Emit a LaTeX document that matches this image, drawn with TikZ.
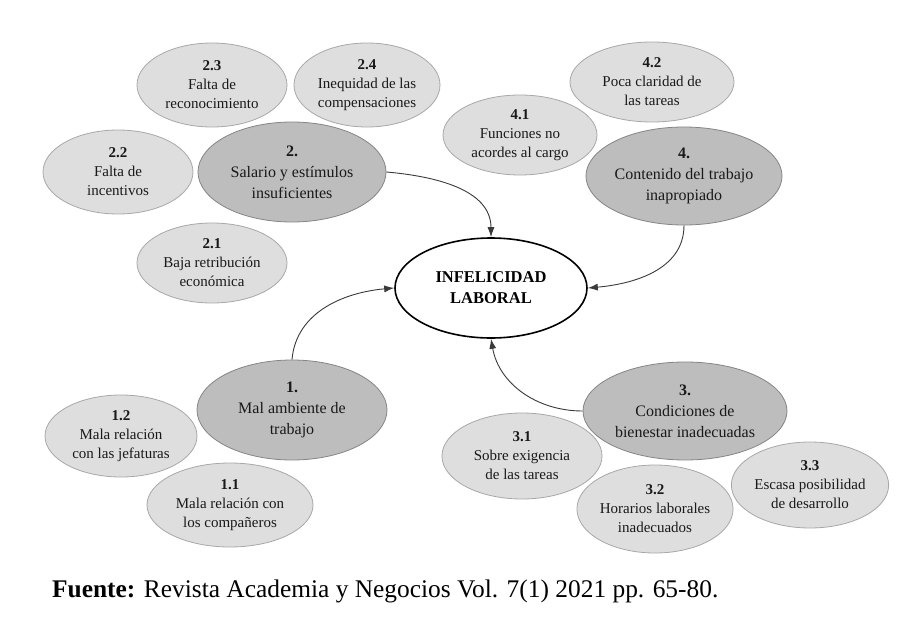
\documentclass[tikz,border=0pt]{standalone}
\usepackage{fontspec}
\setmainfont{Liberation Serif}
\usetikzlibrary{shapes.geometric,arrows.meta}
\definecolor{subfill}{HTML}{DEDEDE}
\definecolor{subdraw}{HTML}{A8A8A8}
\definecolor{mainfill}{HTML}{BDBDBD}
\definecolor{maindraw}{HTML}{858585}
\definecolor{arrowcol}{HTML}{3A3A3A}
\tikzset{
  subnode/.style={ellipse, fill=subfill, draw=subdraw, line width=0.8pt, inner sep=0pt, align=center, text=black!90, font=\fontsize{15}{19}\selectfont},
  mainnode/.style={ellipse, fill=mainfill, draw=maindraw, line width=0.8pt, inner sep=0pt, align=center, text=black!90, font=\fontsize{16}{21}\selectfont},
  centernode/.style={ellipse, fill=white, draw=black, line width=1.6pt, inner sep=0pt, align=center, font=\fontsize{16.5}{21}\selectfont\bfseries},
  link/.style={draw=arrowcol, line width=0.9pt, -{Latex[length=10pt,width=7pt]}}
}
\begin{document}
\begin{tikzpicture}[x=1pt,y=-1pt]
\useasboundingbox[fill=white] (0,0) rectangle (914,621);
% central
\node[centernode, minimum width=192pt, minimum height=100pt] (c) at (491,288) {INFELICIDAD\\LABORAL};
% group 2
\node[mainnode, minimum width=188pt, minimum height=100pt] (n2) at (292,172) {\textbf{2.}\\Salario y estímulos\\insuficientes};
\node[subnode, minimum width=150pt, minimum height=84pt] (n23) at (212,85) {\textbf{2.3}\\Falta de\\reconocimiento};
\node[subnode, minimum width=146pt, minimum height=84pt] (n24) at (367,85) {\textbf{2.4}\\Inequidad de las\\compensaciones};
\node[subnode, minimum width=150pt, minimum height=84pt] (n22) at (118,172) {\textbf{2.2}\\Falta de\\incentivos};
\node[subnode, minimum width=150pt, minimum height=80pt] (n21) at (212,263) {\textbf{2.1}\\Baja retribución\\económica};
% group 4
\node[mainnode, minimum width=196pt, minimum height=98pt] (n4) at (684,176) {\textbf{4.}\\Contenido del trabajo\\inapropiado};
\node[subnode, minimum width=154pt, minimum height=80pt] (n41) at (520,135) {\textbf{4.1}\\Funciones no\\acordes al cargo};
\node[subnode, minimum width=164pt, minimum height=80pt] (n42) at (652,82) {\textbf{4.2}\\Poca claridad de\\las tareas};
% group 1
\node[mainnode, minimum width=190pt, minimum height=100pt] (n1) at (292,410) {\textbf{1.}\\Mal ambiente de\\trabajo};
\node[subnode, minimum width=152pt, minimum height=82pt] (n12) at (121,436) {\textbf{1.2}\\Mala relación\\con las jefaturas};
\node[subnode, minimum width=166pt, minimum height=84pt] (n11) at (230,505) {\textbf{1.1}\\Mala relación con\\los compañeros};
% group 3
\node[mainnode, minimum width=204pt, minimum height=98pt] (n3) at (685,411) {\textbf{3.}\\Condiciones de\\bienestar inadecuadas};
\node[subnode, minimum width=160pt, minimum height=86pt] (n31) at (522,456) {\textbf{3.1}\\Sobre exigencia\\de las tareas};
\node[subnode, minimum width=144pt, minimum height=88pt] (n32) at (655,509) {\textbf{3.2}\\Horarios laborales\\inadecuados};
\node[subnode, minimum width=154pt, minimum height=86pt] (n33) at (810,485) {\textbf{3.3}\\Escasa posibilidad\\de desarrollo};
% connectors
\draw[link] (n2.east) to[out=-5,in=90] (c.north);
\draw[link] (n4.south) to[out=-90,in=5] (c.east);
\draw[link] (n1.north) to[out=85,in=185] (c.west);
\draw[link] (n3.west) to[out=180,in=-80] (c.south);
% caption
\node[anchor=base west, inner sep=0pt, font=\fontsize{25.4}{30}\selectfont] (cap) at (52,597) {\textbf{Fuente:} Revista Academia y Negocios Vol. 7(1) 2021 pp. 65-80.};
\end{tikzpicture}
\end{document}
